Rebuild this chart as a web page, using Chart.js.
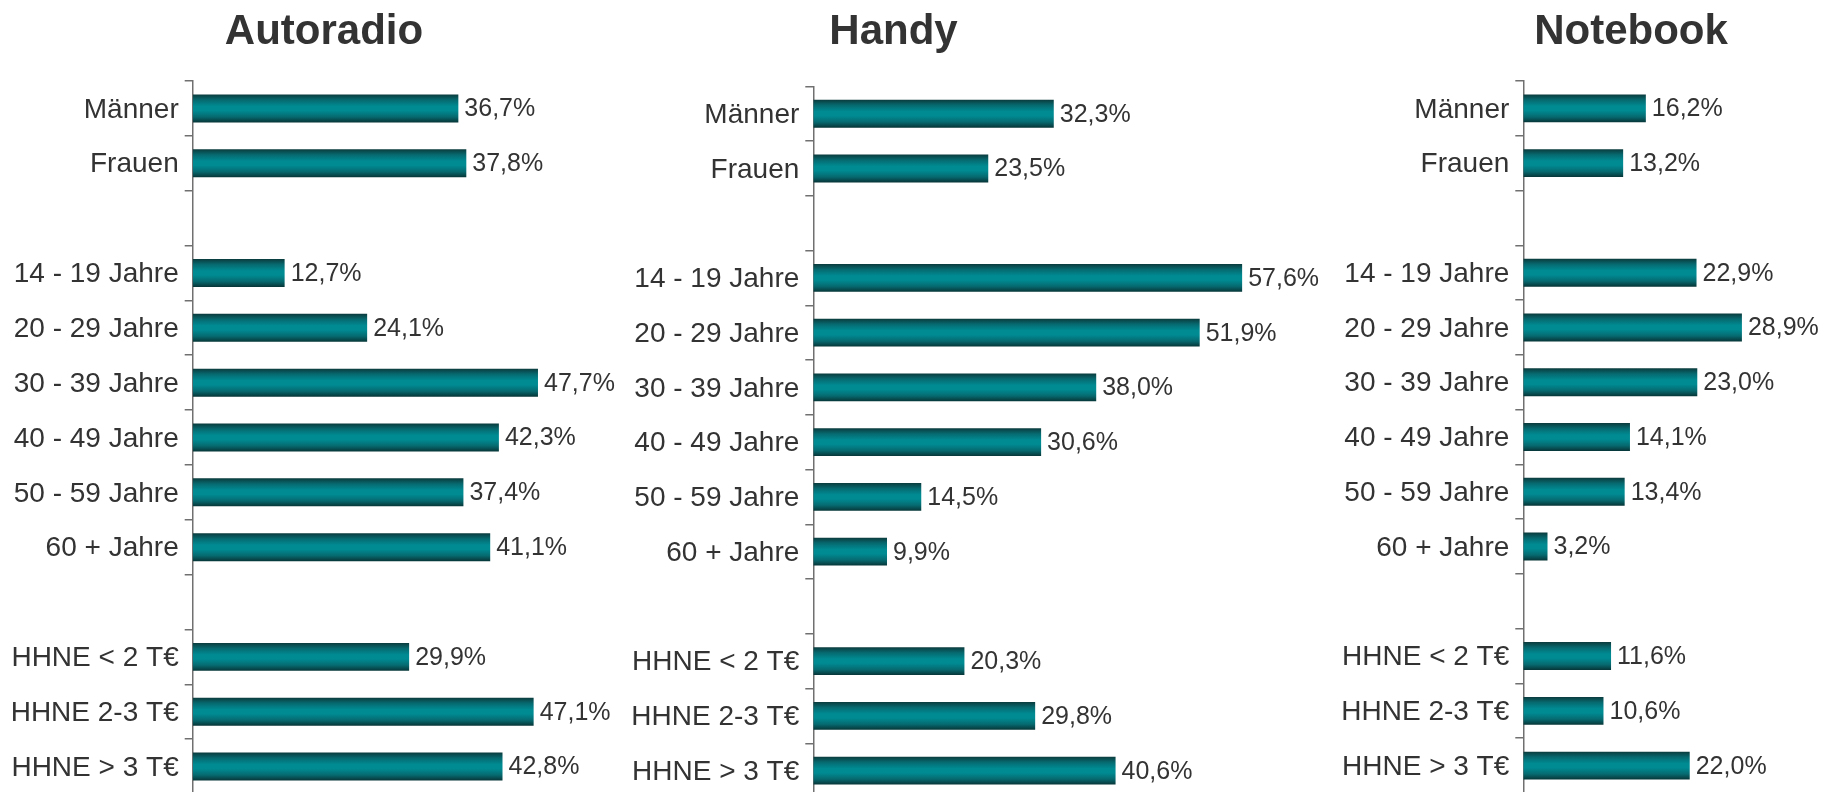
<!DOCTYPE html>
<html lang="de">
<head>
<meta charset="utf-8">
<title>Autoradio - Handy - Notebook</title>
<script src="https://cdn.jsdelivr.net/npm/chart.js@4.4.1/dist/chart.umd.min.js"></script>
<style>
    html, body { margin: 0; padding: 0; background: #fff; }
    body { width: 1834px; height: 792px; overflow: hidden; position: relative; }
    canvas { position: absolute; top: 0; }
</style>
</head>
<body>
<canvas id="autoradioChart" width="648" height="794" style="left:0px"></canvas>
<canvas id="handyChart" width="867" height="798" style="left:460px"></canvas>
<canvas id="notebookChart" width="594" height="793" style="left:1334px"></canvas>
<script>
// Daten
const kategorien = ['Männer', 'Frauen', '', '14 - 19 Jahre', '20 - 29 Jahre', '30 - 39 Jahre',
    '40 - 49 Jahre', '50 - 59 Jahre', '60 + Jahre', '', 'HHNE < 2 T€', 'HHNE 2-3 T€', 'HHNE > 3 T€'];
const autoradioWerte = [36.7, 37.8, null, 12.7, 24.1, 47.7, 42.3, 37.4, 41.1, null, 29.9, 47.1, 42.8];
const handyWerte = [32.3, 23.5, null, 57.6, 51.9, 38.0, 30.6, 14.5, 9.9, null, 20.3, 29.8, 40.6];
const notebookWerte = [16.2, 13.2, null, 22.9, 28.9, 23.0, 14.1, 13.4, 3.2, null, 11.6, 10.6, 22.0];

const BAR_PCT = 0.51;
const SCHRIFT = '"Liberation Sans", Arial, Helvetica, sans-serif';
const TEXTFARBE = '#333333';

Chart.defaults.font.family = SCHRIFT;
Chart.defaults.color = TEXTFARBE;

// Zylinder-Verlauf pro Balken
function balkenVerlauf(context) {
    const chart = context.chart;
    const yScale = chart.scales.y;
    if (!chart.chartArea || !yScale || context.dataIndex === undefined) {
        return '#008a92';
    }
    const mitte = yScale.getPixelForValue(context.dataIndex);
    const h = (yScale.height / kategorien.length) * BAR_PCT;
    const g = chart.ctx.createLinearGradient(0, mitte - h / 2, 0, mitte + h / 2);
    g.addColorStop(0, '#0b3b3d');
    g.addColorStop(0.2, '#066a70');
    g.addColorStop(0.42, '#008a92');
    g.addColorStop(0.58, '#008a92');
    g.addColorStop(0.8, '#066a70');
    g.addColorStop(1, '#073537');
    return g;
}

// Prozentwerte rechts neben den Balken
const wertLabels = {
    id: 'wertLabels',
    afterDatasetsDraw(chart) {
        const ctx = chart.ctx;
        ctx.save();
        ctx.font = '25px ' + SCHRIFT;
        ctx.fillStyle = TEXTFARBE;
        ctx.textAlign = 'left';
        ctx.textBaseline = 'middle';
        chart.data.datasets.forEach((ds, i) => {
            chart.getDatasetMeta(i).data.forEach((bar, j) => {
                const v = ds.data[j];
                if (v === null || v === undefined) return;
                ctx.fillText(v.toFixed(1).replace('.', ',') + '%', bar.x + 6, bar.y + 1);
            });
        });
        ctx.restore();
    }
};

function createPanel(canvasId, titel, werte, achsenBreite, xMax, titelAbstand) {
    const ctx = document.getElementById(canvasId);
    return new Chart(ctx.getContext('2d'), {
        type: 'bar',
        data: {
            labels: kategorien,
            datasets: [{
                label: titel,
                data: werte,
                backgroundColor: balkenVerlauf,
                borderWidth: 0,
                barPercentage: BAR_PCT,
                categoryPercentage: 1.0
            }]
        },
        options: {
            indexAxis: 'y',
            responsive: false,
            animation: false,
            layout: { padding: 0 },
            plugins: {
                legend: { display: false },
                title: {
                    display: true,
                    text: titel,
                    color: TEXTFARBE,
                    font: { size: 42, weight: 'bold', lineHeight: 1.2 },
                    padding: { top: 7, bottom: titelAbstand }
                },
                tooltip: {
                    callbacks: {
                        label: c => c.parsed.x.toFixed(1).replace('.', ',') + '%'
                    }
                }
            },
            scales: {
                x: { display: false, min: 0, max: xMax },
                y: {
                    offset: true,
                    afterFit: function(scale) {
                        scale.width = achsenBreite;
                        scale.paddingTop = 0;
                        scale.paddingBottom = 0;
                    },
                    border: { display: true, color: '#707070', width: 1.5 },
                    grid: {
                        offset: true,
                        drawOnChartArea: false,
                        drawTicks: true,
                        tickLength: 8,
                        color: '#707070',
                        lineWidth: 1.5
                    },
                    ticks: {
                        autoSkip: false,
                        padding: 6,
                        labelOffset: 1.5,
                        color: TEXTFARBE,
                        font: { size: 28 }
                    }
                }
            }
        },
        plugins: [wertLabels]
    });
}

createPanel('autoradioChart', 'Autoradio', autoradioWerte, 192.7, 62.9, 23.6);
createPanel('handyChart', 'Handy', handyWerte, 353.3, 69.0, 28.9);
createPanel('notebookChart', 'Notebook', notebookWerte, 189.3, 53.5, 23.6);
</script>
</body>
</html>
